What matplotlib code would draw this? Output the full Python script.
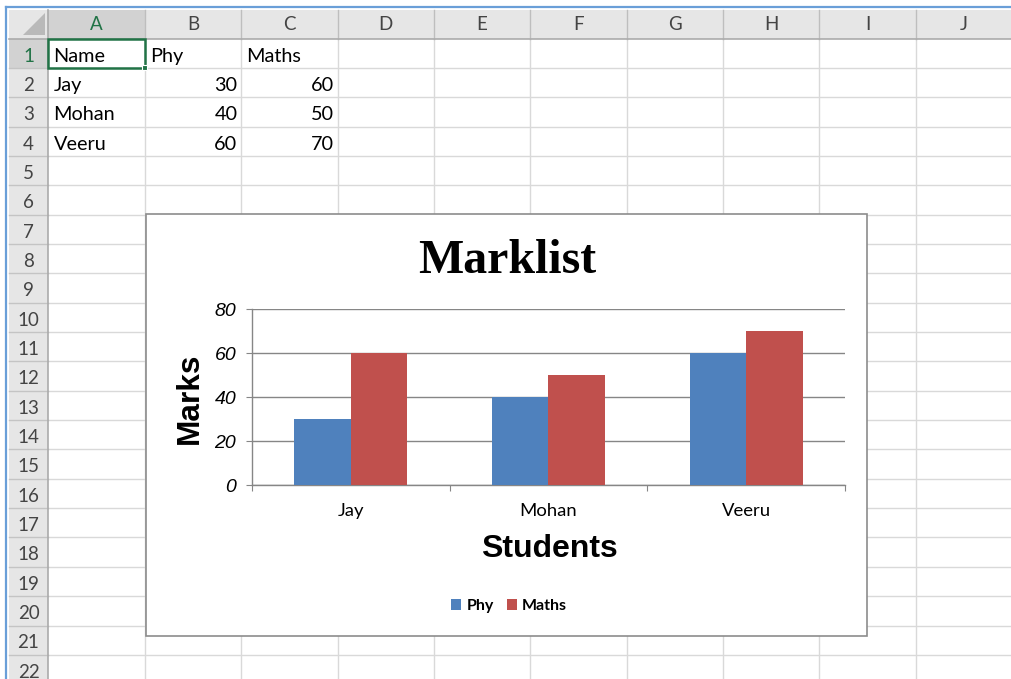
import matplotlib
matplotlib.use("Agg")
import matplotlib.pyplot as plt
from matplotlib.patches import Rectangle, Polygon
import numpy as np

# ---------------- data ----------------
students = ["Jay", "Mohan", "Veeru"]
phy = [30, 40, 60]
maths = [60, 50, 70]
series_names = ["Phy", "Maths"]
col_headers = ["A", "B", "C", "D", "E", "F", "G", "H", "I", "J"]
row_count = 22
title = "Marklist"
xlabel = "Students"
ylabel = "Marks"
yticks = [0, 20, 40, 60, 80]

# ---------------- style ----------------
W, H = 1012, 679
CELL_FONT = "Lato"
PHY_C = "#4F81BD"
MATHS_C = "#C0504D"
GREEN = "#217346"

fig = plt.figure(figsize=(W / 100, H / 100), dpi=100)
bg = fig.add_axes([0, 0, 1, 1])
bg.set_xlim(0, W)
bg.set_ylim(H, 0)
bg.axis("off")
bg.set_zorder(0)

col_x0, col_w = 48.5, 96.35
row_y0, row_h = 38.5, 29.35
hdr_top, rowhdr_left = 9.5, 9.0
col_edges = [col_x0 + col_w * i for i in range(len(col_headers) + 1)]
row_edges = [row_y0 + row_h * i for i in range(row_count + 1)]

# white sheet
bg.add_patch(Rectangle((0, 0), W, H, color="white", zorder=0))
# header backgrounds
bg.add_patch(Rectangle((rowhdr_left, hdr_top), W - rowhdr_left, row_y0 - hdr_top,
                       color="#E6E6E6", zorder=1, lw=0))
bg.add_patch(Rectangle((rowhdr_left, row_y0), col_x0 - rowhdr_left, H - row_y0,
                       color="#E6E6E6", zorder=1, lw=0))
# selected headers
bg.add_patch(Rectangle((col_edges[0], hdr_top), col_w, row_y0 - hdr_top,
                       color="#D2D2D2", zorder=1.1, lw=0))
bg.add_patch(Rectangle((rowhdr_left, row_edges[0]), col_x0 - rowhdr_left, row_h,
                       color="#D2D2D2", zorder=1.1, lw=0))
# corner triangle
bg.add_patch(Polygon([(45, 13), (45, 35), (23, 35)], closed=True,
                     color="#B9B9B9", zorder=1.2, lw=0))

# cell gridlines
for x in col_edges[1:]:
    bg.plot([x, x], [row_y0, H], color="#D9D9D9", lw=1.0, zorder=1.5)
    bg.plot([x, x], [hdr_top, row_y0], color="#BEBEBE", lw=1.0, zorder=1.5)
for y in row_edges[1:]:
    bg.plot([col_x0, W], [y, y], color="#D9D9D9", lw=1.0, zorder=1.5)
    bg.plot([rowhdr_left, col_x0], [y, y], color="#C4C4C4", lw=1.0, zorder=1.5)
bg.plot([rowhdr_left, W], [row_y0, row_y0], color="#ABABAB", lw=1.2, zorder=1.6)
bg.plot([col_x0, col_x0], [hdr_top, H], color="#ABABAB", lw=1.2, zorder=1.6)

# blue frame
bg.plot([6.5, W], [6.5, 6.5], color="#6A9FD8", lw=1.6, zorder=2)
bg.plot([6.5, 6.5], [6.5, H], color="#6A9FD8", lw=1.6, zorder=2)

# header labels
for i, lab in enumerate(col_headers):
    cx = (col_edges[i] + col_edges[i + 1]) / 2
    bg.text(cx, 30.0, lab, ha="center", va="baseline", fontsize=13.5,
            family=CELL_FONT, color=GREEN if i == 0 else "#444444", zorder=3)
for r in range(row_count):
    bg.text(28.5, row_edges[r] + 23.0, str(r + 1), ha="center", va="baseline",
            fontsize=13.5, family=CELL_FONT,
            color=GREEN if r == 0 else "#444444", zorder=3)

# cell contents
def cell_left(c, r, s):
    bg.text(col_edges[c] + 5, row_edges[r] + 23.2, s, ha="left", va="baseline",
            fontsize=14.3, family=CELL_FONT, color="black", zorder=3)

def cell_right(c, r, s):
    bg.text(col_edges[c + 1] - 3.8, row_edges[r] + 23.2, s, ha="right", va="baseline",
            fontsize=14.3, family=CELL_FONT, color="black", zorder=3)

cell_left(0, 0, "Name")
cell_left(1, 0, series_names[0])
cell_left(2, 0, series_names[1])
for k, name in enumerate(students):
    cell_left(0, k + 1, name)
    cell_right(1, k + 1, str(phy[k]))
    cell_right(2, k + 1, str(maths[k]))

# active cell A1
bg.add_patch(Rectangle((col_edges[0], row_edges[0]), col_w, row_h, fill=False,
                       edgecolor=GREEN, lw=1.8, zorder=4))
bg.add_patch(Rectangle((col_edges[1] - 2.5, row_edges[1] - 2.5), 5, 5,
                       facecolor=GREEN, edgecolor="white", lw=0.8, zorder=4.1))

# chart area
cx0, cy0, cx1, cy1 = 146, 214, 867, 636
bg.add_patch(Rectangle((cx0, cy0), cx1 - cx0, cy1 - cy0, facecolor="white",
                       edgecolor="#8C8C8C", lw=1.2, zorder=5))

bg.text(507, 273, title, ha="center", va="baseline", fontsize=34.5,
        family="Liberation Serif", fontweight="bold", zorder=6)
bg.text(190, 398, ylabel, ha="center", va="center", rotation=90, fontsize=22.8,
        family="Liberation Sans", fontweight="bold", zorder=6)
bg.text(549, 557, xlabel, ha="center", va="baseline", fontsize=23,
        family="Liberation Sans", fontweight="bold", zorder=6)

# plot axes
pl, pr, pt, pb = 252, 845, 309.5, 485.3
ax = fig.add_axes([pl / W, (H - pb) / H, (pr - pl) / W, (pb - pt) / H])
ax.set_zorder(10)
ax.patch.set_alpha(0)

x = np.arange(len(students))
bw = 0.286
b1 = ax.bar(x - bw / 2, phy, bw, color=PHY_C, label=series_names[0], zorder=3)
b2 = ax.bar(x + bw / 2, maths, bw, color=MATHS_C, label=series_names[1], zorder=3)
ax.set_xlim(-0.5, len(students) - 0.5)
ax.set_ylim(0, 80)
ax.set_yticks(yticks)
ax.yaxis.grid(True, color="#868686", lw=1.0, zorder=0)
ax.set_axisbelow(True)
for s in ["top", "right"]:
    ax.spines[s].set_visible(False)
for s in ["left", "bottom"]:
    ax.spines[s].set_color("#868686")
    ax.spines[s].set_linewidth(1.0)
ax.tick_params(axis="y", length=4.3, width=0.8, color="#868686", pad=7)
for lab in ax.get_yticklabels():
    lab.set_fontstyle("italic")
    lab.set_fontsize(14)
    lab.set_family("Liberation Sans")
ax.set_xticks(x)
ax.set_xticklabels(students, fontsize=13.3, family=CELL_FONT)
ax.set_xticks(np.arange(len(students) + 1) - 0.5, minor=True)
ax.tick_params(axis="x", which="major", length=0, pad=12.5)
ax.tick_params(axis="x", which="minor", length=4, width=0.8, color="#868686")

fig.legend(handles=[b1, b2], labels=series_names, loc="center",
           bbox_to_anchor=(509 / W, (H - 606) / H), ncol=2, frameon=False,
           prop={"family": CELL_FONT, "weight": "bold", "size": 11.5},
           handlelength=0.66, handleheight=0.66, handletextpad=0.32,
           columnspacing=0.8)

fig.savefig("out.png", dpi=100)
